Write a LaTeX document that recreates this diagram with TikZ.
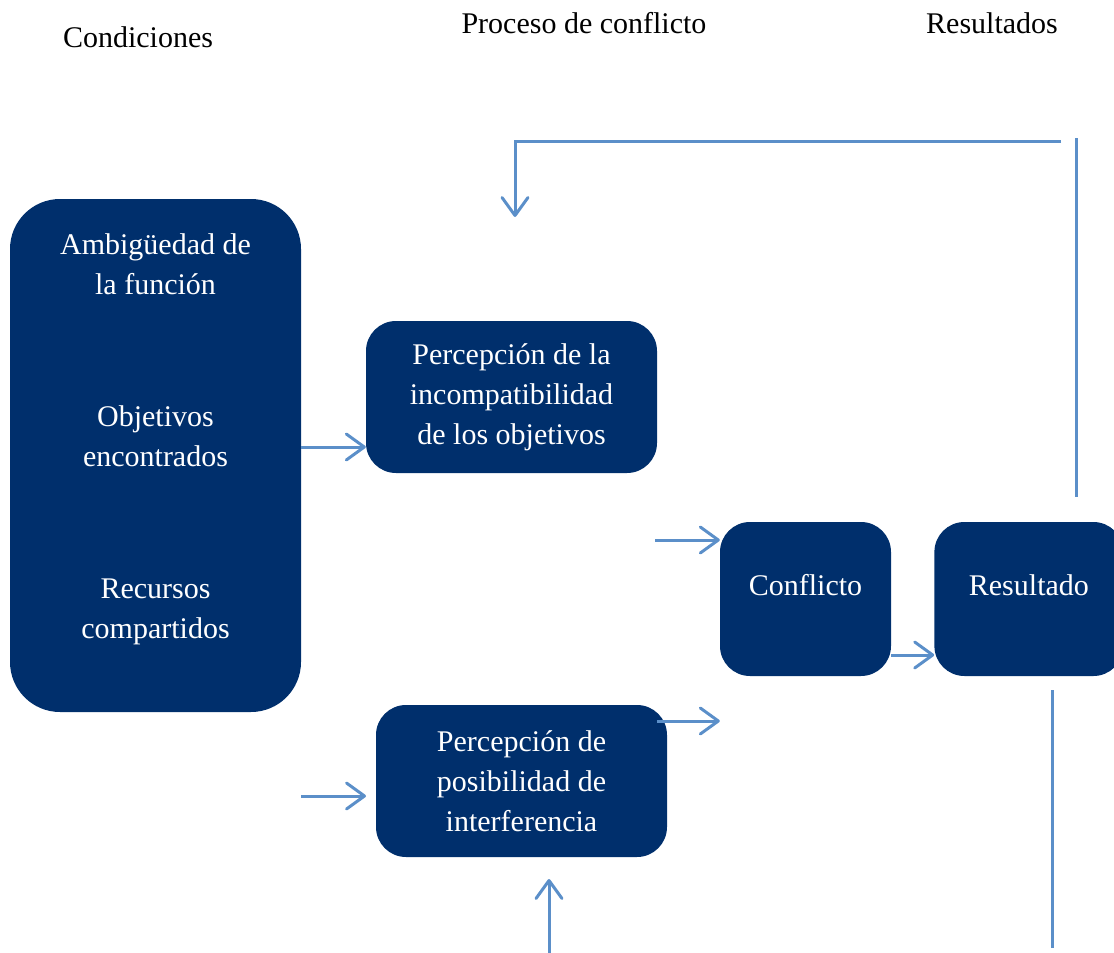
\documentclass[tikz,border=0pt]{standalone}
\usepackage{fontspec}
\setmainfont{Liberation Serif}
\usetikzlibrary{positioning, arrows.meta}
\definecolor{navybox}{RGB}{0,47,108}
\definecolor{flowblue}{RGB}{91,143,201}
\tikzset{>={Straight Barb[length=18pt, width=26pt, round]}, every node/.style={font=\fontsize{30}{40}\selectfont}, box/.style={fill=navybox, text=white, align=center, inner sep=0pt, rounded corners=30pt}, flow/.style={draw=flowblue, line width=3pt, ->}, line/.style={draw=flowblue, line width=3pt}}

\begin{document}
\begin{tikzpicture}[x=1pt, y=-1pt]
	\useasboundingbox (0,0) rectangle (1114,953);
	\node[anchor=base] (Cond) at (138,47) {Condiciones};
	\node[anchor=base] (Proc) at (584,33) {Proceso de conflicto};
	\node[anchor=base] (Resu) at (992,33) {Resultados};
	\node[box, rounded corners=50pt, minimum width=291pt, minimum height=513pt] (Condiciones) at (155.5,455.5) {Ambigüedad de\\la función\\[92pt]Objetivos\\encontrados\\[92pt]Recursos\\compartidos\\[-2pt]\mbox{}};
	\node[box, minimum width=291pt, minimum height=152pt] (Incompat) at (511.5,397) {Percepción de la\\incompatibilidad\\de los objetivos};
	\node[box, minimum width=291pt, minimum height=152pt] (Interf) at (521.5,781) {Percepción de\\posibilidad de\\interferencia};
	\node[box, minimum width=171pt, minimum height=154pt] (Conflicto) at (805.5,599) {Conflicto\\[-12pt]\mbox{}};
	\node[box, minimum width=189pt, minimum height=154pt, right=43pt of Conflicto] (Resultado) {Resultado\\[-12pt]\mbox{}};
	\coordinate (toConf) at (655,540);
	\coordinate (fromInterf) at (657,721);
	\coordinate (toInterf) at (366,796);
	\coordinate (belowInterf) at (549,953);
	\coordinate (underInterf) at (549,879);
	\coordinate (fbStart) at (1061,141);
	\coordinate (fbEnd) at (515,217);
	\coordinate (upTop) at (1076,138);
	\coordinate (upBottom) at (1076,497);
	\coordinate (downTop) at (1052,690);
	\coordinate (downBottom) at (1052,948);
	\draw[flow] (Condiciones.east |- 0,447) -- (Incompat.west |- 0,447);
	\draw[flow] (toConf) -- (Conflicto.west |- toConf);
	\draw[flow] (Conflicto.east |- 0,655) -- (Resultado.west |- 0,655);
	\draw[flow] (fromInterf) -- (Conflicto.west |- fromInterf);
	\draw[flow] (Condiciones.east |- toInterf) -- (toInterf);
	\draw[flow] (belowInterf) -- (underInterf);
	\draw[flow] (fbStart) -| (fbEnd);
	\draw[line] (upTop) -- (upBottom);
	\draw[line] (downTop) -- (downBottom);
\end{tikzpicture}
\end{document}
